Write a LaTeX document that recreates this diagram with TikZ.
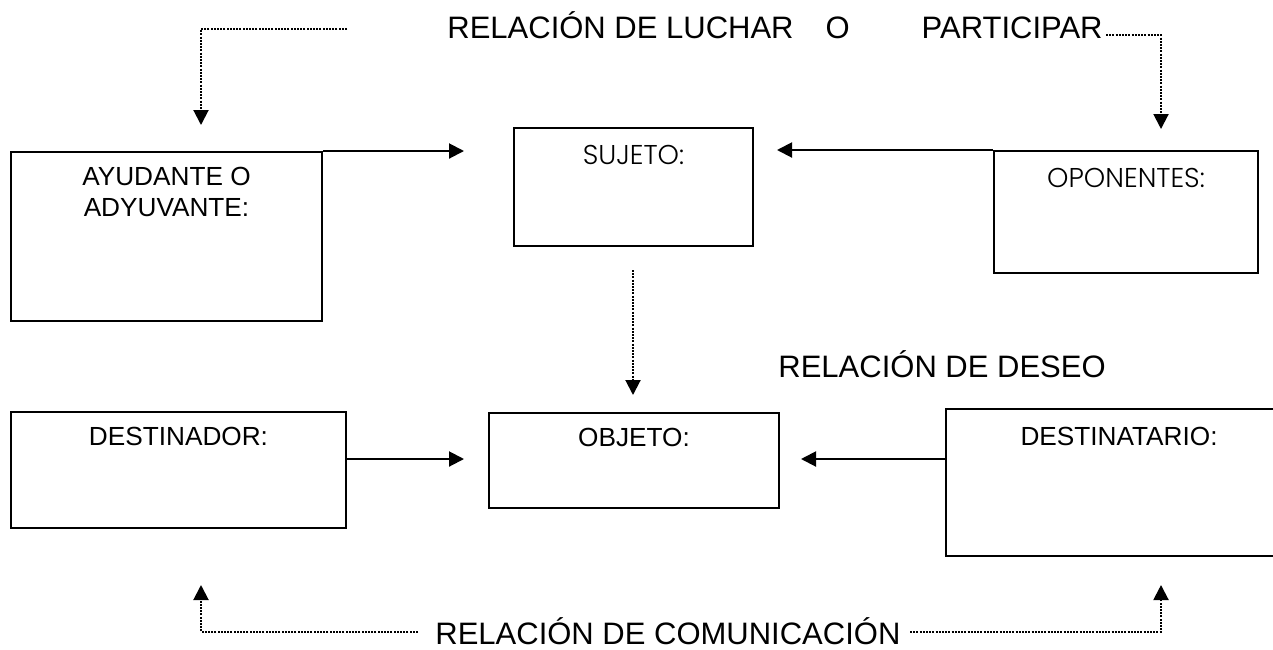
\documentclass[tikz,border=0pt]{standalone}
\usepackage{fontspec}
\setmainfont{Liberation Sans}
\newfontfamily\gotica{Poppins Light}
\usetikzlibrary{arrows.meta,positioning}

\tikzset{
	caja/.style={draw, line width=1pt, anchor=north west, inner sep=0pt},
	rotulo/.style={anchor=north, inner sep=0pt, align=center, font=\fontsize{13.1}{15.5}\selectfont},
	rotulog/.style={anchor=north, inner sep=0pt, font=\gotica\fontsize{13.6}{16}\selectfont},
	titulo/.style={anchor=base west, inner sep=0pt, font=\fontsize{15.5}{18}\selectfont},
	flecha/.style={line width=1pt, -{Triangle[length=7.5pt,width=7.5pt]}},
	punteada/.style={line width=1pt, dash pattern=on 1pt off 0.6pt, -{Triangle[length=7.5pt,width=7.5pt]}}
}

\begin{document}
\begin{tikzpicture}[x=0.5pt, y=-0.5pt]
	\useasboundingbox (0,0) rectangle (1273,649);
	
	% Boxes
	\node[caja, minimum width=155.5pt, minimum height=84.5pt] (ayudante) at (10,151) {};
	\node[caja, minimum width=119.5pt, minimum height=59pt] (sujeto) at (513,127) {};
	\node[caja, minimum width=132pt, minimum height=61pt] (oponentes) at (993,150) {};
	\node[caja, minimum width=167.5pt, minimum height=58pt] (destinador) at (10,411) {};
	\node[caja, minimum width=145pt, minimum height=47.5pt] (objeto) at (488,412) {};
	\node[caja, minimum width=173pt, minimum height=73.5pt] (destinatario) at (945,408) {};
	
	% Box labels
	\node[rotulo, below=8pt of ayudante.north] (tayudante) {AYUDANTE O\\ADYUVANTE:};
	\node[rotulog, below=9pt of sujeto.north] (tsujeto) {SUJETO:};
	\node[rotulog, below=9pt of oponentes.north] (toponentes) {OPONENTES:};
	\node[rotulo, below=8pt of destinador.north] (tdestinador) {DESTINADOR:};
	\node[rotulo, below=8pt of objeto.north] (tobjeto) {OBJETO:};
	\node[rotulo, below=9.5pt of destinatario.north] (tdestinatario) {DESTINATARIO:};
	
	% Relations
	\node[titulo] (lucha) at (447,38) {RELACIÓN DE LUCHAR\hspace{16pt}O\hspace{36pt}PARTICIPAR};
	\node[titulo] (deseo) at (778,377) {RELACIÓN DE DESEO};
	\node[titulo] (comunica) at (435,644) {RELACIÓN DE COMUNICACIÓN};
	
	% Free ends
	\coordinate (a1) at (464,151);
	\coordinate (a2) at (777,150);
	\coordinate (a3) at (345,459);
	\coordinate (a4) at (464,459);
	\coordinate (a5) at (945,459);
	\coordinate (a6) at (801,459);
	\coordinate (d1) at (633,270);
	\coordinate (d2) at (633,395);
	\coordinate (l1) at (347,29);
	\coordinate (l2) at (201,125);
	\coordinate (l3) at ([xshift=1.5pt, yshift=1.5pt]lucha.base east);
	\coordinate (l4) at (1161,129);
	\coordinate (c1) at (418,632);
	\coordinate (c2) at (201,585);
	\coordinate (c3) at (910,632);
	\coordinate (c4) at (1161,585);
	
	% Solid arrows
	\draw[flecha] (ayudante.north east) -- (a1);
	\draw[flecha] (oponentes.north west) -- (a2);
	\draw[flecha] (a3) -- (a4);
	\draw[flecha] (a5) -- (a6);
	
	% Dotted arrows
	\draw[punteada] (d1) -- (d2);
	\draw[punteada] (l1) -| (l2);
	\draw[punteada] (l3) -| (l4);
	\draw[punteada] (c1) -| (c2);
	\draw[punteada] (c3) -| (c4);
\end{tikzpicture}
\end{document}
